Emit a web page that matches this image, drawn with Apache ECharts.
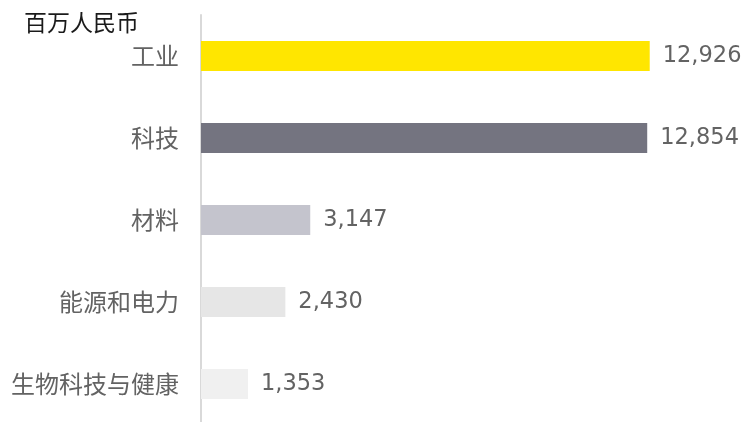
<!DOCTYPE html>
<html>
<head>
<meta charset="utf-8">
<script src="https://cdn.jsdelivr.net/npm/echarts@6/dist/echarts.min.js"></script>
<style>
  html, body { margin: 0; padding: 0; background: #fff; }
  #chart { width: 746px; height: 422px; }
</style>
</head>
<body>
<div id="chart"></div>
<script>
// 行业分布（百万人民币）
const categories = ['工业', '科技', '材料', '能源和电力', '生物科技与健康'];
const values = [12926, 12854, 3147, 2430, 1353];
const barColors = ['#FFE600', '#747480', '#C4C4CD', '#E6E6E6', '#F0F0F0'];
const unitLabel = '百万人民币';

const chart = echarts.init(document.getElementById('chart'));

const options = {
    animation: false,
    title: {
        text: unitLabel,
        left: 19,
        top: 6,
        textStyle: {
            fontFamily: 'Noto Sans CJK SC',
            fontSize: 23,
            fontWeight: 'normal',
            color: '#1a1a1a'
        }
    },
    grid: {
        left: 201,
        top: 15,
        width: 486,
        height: 410,
        outerBoundsMode: 'none'
    },
    xAxis: {
        type: 'value',
        min: 0,
        max: 14000,
        show: false
    },
    yAxis: {
        type: 'category',
        inverse: true,
        data: categories,
        axisLine: {
            show: true,
            lineStyle: { color: '#d9d9d9', width: 2 }
        },
        axisTick: { show: false },
        axisLabel: {
            margin: 22,
            fontFamily: 'Noto Sans CJK SC',
            fontSize: 24,
            color: '#636363'
        }
    },
    series: [{
        type: 'bar',
        barWidth: 30,
        data: values.map((v, i) => ({
            value: v,
            itemStyle: { color: barColors[i] }
        })),
        label: {
            show: true,
            position: 'right',
            distance: 13,
            fontFamily: 'DejaVu Sans',
            fontSize: 22.5,
            color: '#636363',
            formatter: (p) => p.value.toLocaleString('en-US')
        }
    }]
};

chart.setOption(options);
</script>
</body>
</html>
